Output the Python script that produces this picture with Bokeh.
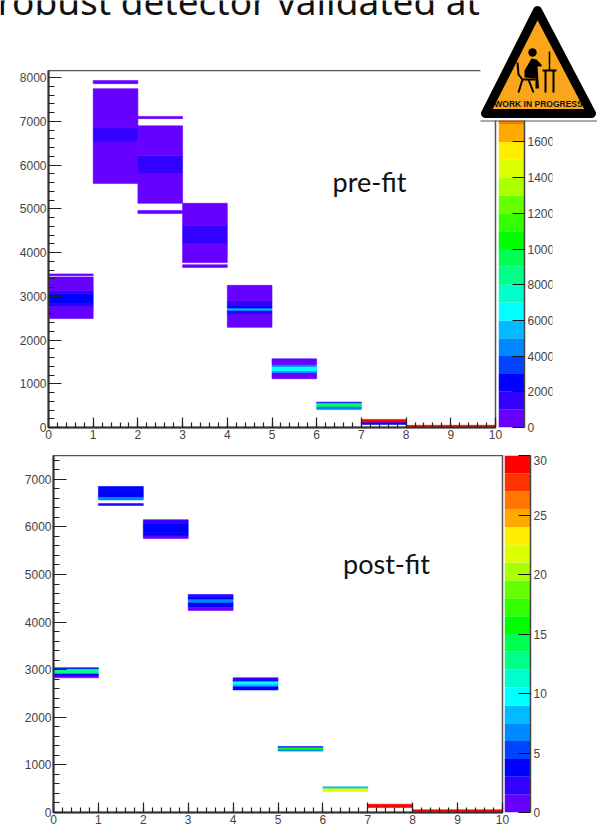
from bokeh.embed import file_html
from bokeh.resources import INLINE
from bokeh.plotting import figure
from bokeh.layouts import column
from bokeh.models import SingleIntervalTicker, LinearColorMapper, Range1d, ColumnDataSource
from bokeh.core.properties import value
from bokeh.transform import transform

palette = ["#6600ff", "#3300ff", "#0000ff", "#0044ff", "#0088ff", "#00bbff", "#00ffff", "#00ffcc",
           "#00ff88", "#00ff55", "#00ff00", "#33ff00", "#66ff00", "#aaff00", "#ddff00", "#ffee00",
           "#ffaa00", "#ff7700", "#ff3300", "#ff0000"]

# (x bin, y low, y high, z)
pre_bin = [0, 0, 0, 0, 0, 0,
           1, 1, 1, 1,
           2, 2, 2, 2, 2,
           3, 3, 3, 3,
           4, 4, 4, 4, 4, 4, 4,
           5, 5, 5, 5, 5,
           6, 6, 6,
           7, 7, 8, 9]
pre_low = [3470, 2490, 2770, 2830, 3060, 3130,
           7860, 5580, 6530, 6865,
           7060, 5125, 5820, 6210, 4890,
           3660, 3770, 4210, 4620,
           2290, 2590, 2650, 2680, 2730, 2780, 2900,
           1115, 1250, 1290, 1395, 1440,
           550, 470, 410,
           110, 70, 5, 5]
pre_high = [3510, 2770, 2830, 3060, 3130, 3440,
            7930, 6530, 6865, 7745,
            7110, 5820, 6210, 6895, 4960,
            3720, 4210, 4620, 5125,
            2590, 2650, 2680, 2730, 2780, 2900, 3250,
            1250, 1290, 1395, 1440, 1570,
            580, 550, 470,
            185, 110, 50, 50]
pre_val = [500, 500, 1500, 2500, 1500, 800,
           500, 500, 1500, 500,
           500, 500, 1500, 500, 500,
           500, 500, 1500, 500,
           500, 1500, 3000, 5000, 3000, 1500, 500,
           500, 4500, 6500, 4500, 500,
           3000, 9500, 4500,
           19500, 2000, 19500, 19500]

post_bin = [0, 0, 0, 0,
            1, 1, 1, 1, 1,
            2, 2, 2, 2, 2,
            3, 3, 3, 3, 3,
            4, 4, 4, 4, 4,
            5, 5, 5,
            6, 6,
            7, 8, 9]
post_low = [3010, 2910, 2870, 2830,
            6785, 6690, 6620, 6565, 6450,
            6065, 5975, 5880, 5810, 5755,
            4530, 4470, 4400, 4310, 4245,
            2780, 2745, 2690, 2640, 2575,
            1360, 1315, 1290,
            500, 440,
            105, 15, 15]
post_high = [3040, 3010, 2910, 2870,
             6850, 6785, 6690, 6620, 6490,
             6150, 6065, 5975, 5880, 5810,
             4580, 4530, 4470, 4400, 4310,
             2830, 2780, 2745, 2690, 2640,
             1385, 1360, 1315,
             540, 500,
             175, 57, 57]
post_val = [4.5, 12.5, 4, 1,
            3.5, 4.5, 3.5, 6.5, 1.5,
            1.5, 3.5, 4.5, 3.5, 1,
            1.5, 3.5, 6.5, 3.5, 1,
            1.5, 4.5, 9.5, 7.5, 3.5,
            3.5, 16, 7,
            8, 21.5,
            29.5, 29.5, 29.5]

pre_z_max, post_z_max = 20000, 30
pre_z_tick, post_z_tick = 2000, 5
pre_y_max, post_y_max = 8160, 7500

title_text = "robust detector validated at"
pre_label, post_label = "pre-fit", "post-fit"
banner_text = "WORK IN PROGRESS"

AXIS_FONT = "Liberation Sans"
GREY = "#444444"
LEFT_BORDER = 60


def place(fig, left, top):
    fig.styles = {"position": "absolute", "left": f"{left}px", "top": f"{top}px"}
    return fig


def panel(bins, low, high, vals, z_max, y_max, fx, fy, fw, fh):
    mapper = LinearColorMapper(palette=palette, low=0, high=z_max)
    src = ColumnDataSource(dict(left=bins, right=[b + 1 for b in bins], bottom=low, top=high, z=vals))
    p = figure(output_backend="svg", toolbar_location=None, width=None, height=None,
               frame_width=fw, frame_height=fh, frame_align=False,
               x_range=Range1d(0, 10), y_range=Range1d(0, y_max),
               min_border_left=LEFT_BORDER, min_border_right=12, min_border_top=0, min_border_bottom=26)
    p.quad(left="left", right="right", bottom="bottom", top="top", source=src,
           fill_color=transform("z", mapper), line_color=transform("z", mapper), line_width=0.6)
    p.grid.visible = False
    p.background_fill_alpha = 0
    p.border_fill_alpha = 0
    p.outline_line_color = "#555555"
    p.outline_line_width = 1.5
    for ax, interval, major in ((p.xaxis[0], 1, 10), (p.yaxis[0], 1000, 13)):
        ax.ticker = SingleIntervalTicker(interval=interval, num_minor_ticks=5)
        ax.major_tick_in, ax.major_tick_out = major, 0
        ax.minor_tick_in, ax.minor_tick_out = major // 2, 0
        ax.axis_line_color = "#333333"
        ax.axis_line_width = 2
        ax.major_tick_line_color = "#222222"
        ax.minor_tick_line_color = "#222222"
        ax.major_tick_line_width = 1.2
        ax.minor_tick_line_width = 1.2
        ax.major_label_text_font = AXIS_FONT
        ax.major_label_text_font_size = "12px"
        ax.major_label_text_color = GREY
        ax.major_label_standoff = 2
    return place(p, fx - LEFT_BORDER, fy)


def colorbar(z_max, tick, fx, fy, fw, fh):
    mapper = LinearColorMapper(palette=palette, low=0, high=z_max)
    step = z_max / len(palette)
    lows = [i * step for i in range(len(palette))]
    src = ColumnDataSource(dict(b=lows, t=[v + step for v in lows], z=[v + step / 2 for v in lows]))
    p = figure(output_backend="svg", toolbar_location=None, width=None, height=None,
               frame_width=fw, frame_height=fh, frame_align=False,
               x_range=Range1d(0, 1), y_range=Range1d(0, z_max),
               x_axis_location=None, y_axis_location="right",
               min_border_left=0, min_border_right=60, min_border_top=0, min_border_bottom=8)
    p.quad(left=0, right=1, bottom="b", top="t", source=src,
           fill_color=transform("z", mapper), line_color=None)
    p.grid.visible = False
    p.background_fill_alpha = 0
    p.border_fill_alpha = 0
    p.outline_line_color = None
    ax = p.yaxis[0]
    ax.ticker = SingleIntervalTicker(interval=tick, num_minor_ticks=0)
    ax.major_tick_in, ax.major_tick_out = 12, 0
    ax.minor_tick_in, ax.minor_tick_out = 0, 0
    ax.axis_line_color = "#444444"
    ax.axis_line_width = 1.5
    ax.major_tick_line_color = "#111111"
    ax.major_tick_line_width = 1.2
    ax.major_label_text_font = AXIS_FONT
    ax.major_label_text_font_size = "12px"
    ax.major_label_text_color = GREY
    ax.major_label_standoff = 3
    return place(p, fx, fy)


p1 = panel(pre_bin, pre_low, pre_high, pre_val, pre_z_max, pre_y_max, 48, 70, 447, 357)
c1 = colorbar(pre_z_max, pre_z_tick, 498, 70, 26, 357)
p2 = panel(post_bin, post_low, post_high, post_val, post_z_max, post_y_max, 53, 455, 449, 357)
c2 = colorbar(post_z_max, post_z_tick, 504, 455, 26, 357)

# page-level overlay: title, labels and the banner, in page pixels
ov = figure(output_backend="svg", toolbar_location=None, width=None, height=None,
            frame_width=597, frame_height=825, frame_align=False,
            x_range=Range1d(0, 597), y_range=Range1d(825, 0),
            x_axis_location=None, y_axis_location=None,
            min_border=0, outline_line_color=None)
ov.grid.visible = False
ov.background_fill_alpha = 0
ov.border_fill_alpha = 0
ov.text([-3], [0], text=[title_text], text_font=value("Noto Sans"), text_font_size="37px",
        text_color="#111111", text_baseline="alphabetic")
ov.text([369], [181], text=[pre_label], text_font=value("Lato"), text_font_size="27px",
        text_color="#111111", text_align="center", text_baseline="middle")
ov.text([386], [563], text=[post_label], text_font=value("Lato"), text_font_size="27px",
        text_color="#111111", text_align="center", text_baseline="middle")
# white banner box and clip of the colour-bar labels
ov.quad(left=[480], right=[597], top=[0], bottom=[120], fill_color="white", line_color=None)
ov.quad(left=[552], right=[597], top=[120], bottom=[450], fill_color="white", line_color=None)
ov.line([480, 597], [120.5, 120.5], line_color="#555555", line_width=1)
# warning sign
ov.patch([537, 485, 591], [10, 113, 113], fill_color="#faa61a", line_color="black",
         line_width=9, line_join="round")
ov.circle([532], [52], radius=4.2, fill_color="black", line_color=None)
ov.patch([524, 531, 536, 541, 541, 537, 538.5, 535, 535, 524], [70, 58, 59, 64, 66, 66, 88, 88, 78, 77],
         fill_color="black", line_color=None)
ov.multi_line([[517, 518, 522, 535], [522, 518], [528, 533], [542, 556], [545, 545], [553, 553]],
              [[62, 74, 79, 79], [79, 92], [79, 92], [70, 70], [70, 92], [70, 92]],
              line_color="black", line_width=2)
ov.line([549, 549], [51, 70], line_color="black", line_width=1.5)
ov.text([538], [103], text=[banner_text], text_font=value("Liberation Sans"), text_font_size="8.5px",
        text_font_style="bold", text_color="#111111", text_align="center", text_baseline="middle")
place(ov, 0, 0)

p = column(p1, c1, p2, c2, ov, width=597, height=825, sizing_mode="fixed", spacing=0,
           styles={"position": "absolute", "left": "0px", "top": "0px"})
open("out.html", "w").write(file_html(p, INLINE))
